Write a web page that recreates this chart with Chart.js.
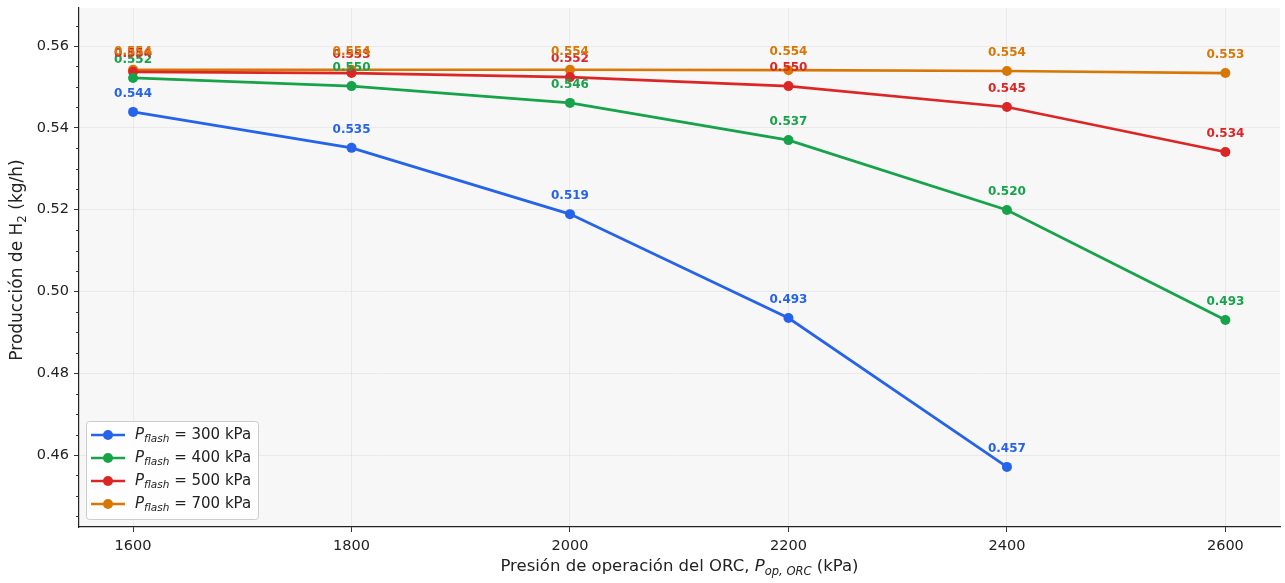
<!DOCTYPE html>
<html>
<head>
<meta charset="utf-8">
<script src="https://cdn.jsdelivr.net/npm/chart.js@4.4.1/dist/chart.umd.min.js"></script>
<style>
  html, body { margin: 0; padding: 0; background: #fff; }
  #wrap { width: 1285px; height: 583px; position: relative; }
</style>
</head>
<body>
<div id="wrap"><canvas id="chart"></canvas></div>
<script>
// data
const presiones = [1600, 1800, 2000, 2200, 2400, 2600];
const flash300 = [0.5439, 0.5351, 0.5189, 0.4935, 0.4571, null];
const flash400 = [0.5522, 0.5502, 0.5461, 0.5370, 0.5199, 0.4930];
const flash500 = [0.5537, 0.5534, 0.5524, 0.5502, 0.5451, 0.5341];
const flash700 = [0.5542, 0.5542, 0.5542, 0.5541, 0.5539, 0.5534];
const seriesNames = ['300', '400', '500', '700'];
const yTicks = [0.46, 0.48, 0.50, 0.52, 0.54, 0.56];

const colors = ['#2563eb', '#16a34a', '#dc2626', '#d97706'];
const FONT = "'DejaVu Sans', sans-serif";

function toPoints(arr) {
    return presiones.map((x, i) => ({ x: x, y: arr[i] })).filter(p => p.y !== null);
}

const allSeries = [flash300, flash400, flash500, flash700];

// draw text made of segments (italic / subscript)
function richWidth(ctx, segs, size) {
    let w = 0;
    segs.forEach(s => {
        const fs = s.sub ? size * 0.7 : size;
        ctx.font = (s.italic ? 'italic ' : '') + fs + 'px ' + FONT;
        w += ctx.measureText(s.t).width;
    });
    return w;
}
function drawRich(ctx, segs, x, y, size) {
    let cx = x;
    ctx.textBaseline = 'middle';
    ctx.textAlign = 'left';
    segs.forEach(s => {
        const fs = s.sub ? size * 0.7 : size;
        ctx.font = (s.italic ? 'italic ' : '') + fs + 'px ' + FONT;
        ctx.fillText(s.t, cx, s.sub ? y + size * 0.3 : y);
        cx += ctx.measureText(s.t).width;
    });
}

const decorPlugin = {
    id: 'decor',
    beforeDraw(chart) {
        const { ctx, chartArea: a } = chart;
        ctx.save();
        ctx.fillStyle = '#f7f7f7';
        ctx.fillRect(a.left, a.top, a.right - a.left, a.bottom - a.top);
        ctx.restore();
    },
    afterDatasetsDraw(chart) {
        const { ctx } = chart;
        // value labels
        ctx.save();
        ctx.font = 'bold 12px ' + FONT;
        ctx.textAlign = 'center';
        ctx.textBaseline = 'middle';
        chart.data.datasets.forEach((ds, di) => {
            const meta = chart.getDatasetMeta(di);
            ctx.fillStyle = colors[di];
            meta.data.forEach((pt, i) => {
                ctx.fillText(ds.data[i].y.toFixed(3), pt.x, pt.y - 18);
            });
        });
        ctx.restore();
    },
    afterDraw(chart) {
        const { ctx, chartArea: a, scales } = chart;
        const ys = scales.y;
        ctx.save();
        // minor ticks on y
        ctx.strokeStyle = '#333';
        ctx.lineWidth = 1;
        for (let v = 0.445; v < ys.max; v += 0.005) {
            const r = Math.round(v * 1000) / 1000;
            if (Math.abs(r * 50 - Math.round(r * 50)) < 1e-6) continue;
            const py = Math.round(ys.getPixelForValue(r)) + 0.5;
            ctx.beginPath();
            ctx.moveTo(a.left - 3, py);
            ctx.lineTo(a.left, py);
            ctx.stroke();
        }

        // y title
        ctx.fillStyle = '#222';
        ctx.save();
        ctx.translate(18, 260);
        ctx.rotate(-Math.PI / 2);
        const ySegs = [{ t: 'Producción de H' }, { t: '2', sub: true }, { t: ' (kg/h)' }];
        const yw = richWidth(ctx, ySegs, 17);
        drawRich(ctx, ySegs, -yw / 2, 0, 17);
        ctx.restore();

        // x title
        const xSegs = [{ t: 'Presión de operación del ORC, ' }, { t: 'P', italic: true },
            { t: 'op, ORC', italic: true, sub: true }, { t: ' (kPa)' }];
        const xw = richWidth(ctx, xSegs, 16.5);
        drawRich(ctx, xSegs, (a.left + a.right) / 2 - xw / 2, 567, 16.5);

        // legend
        const lx = 86, ly = 421, lw = 172, lh = 98;
        ctx.fillStyle = 'rgba(255,255,255,0.85)';
        ctx.strokeStyle = '#cccccc';
        ctx.lineWidth = 1;
        ctx.beginPath();
        ctx.roundRect(lx + 0.5, ly + 0.5, lw, lh, 3);
        ctx.fill();
        ctx.stroke();
        seriesNames.forEach((name, i) => {
            const ry = 435 + i * 23;
            ctx.strokeStyle = colors[i];
            ctx.lineWidth = 2.5;
            ctx.beginPath();
            ctx.moveTo(91, ry);
            ctx.lineTo(125, ry);
            ctx.stroke();
            ctx.fillStyle = colors[i];
            ctx.beginPath();
            ctx.arc(108, ry, 5, 0, Math.PI * 2);
            ctx.fill();
            ctx.fillStyle = '#222';
            drawRich(ctx, [{ t: 'P', italic: true }, { t: 'flash', italic: true, sub: true },
                { t: ' = ' + name + ' kPa' }], 135, ry, 15);
        });
        ctx.restore();
    }
};

const datasets = allSeries.map((arr, i) => ({
    label: 'P flash = ' + seriesNames[i] + ' kPa',
    data: toPoints(arr),
    borderColor: colors[i],
    backgroundColor: colors[i],
    borderWidth: 2.7,
    pointRadius: 5,
    pointHoverRadius: 5,
    pointBorderWidth: 0,
    tension: 0
}));

new Chart(document.getElementById('chart'), {
    type: 'line',
    data: { datasets: datasets },
    plugins: [decorPlugin],
    options: {
        responsive: true,
        maintainAspectRatio: false,
        animation: false,
        layout: { padding: { top: 8, right: 5, left: 0, bottom: 0 } },
        plugins: {
            legend: { display: false },
            tooltip: { enabled: false }
        },
        scales: {
            x: {
                type: 'linear',
                min: 1550.5,
                max: 2650,
                afterBuildTicks: (s) => { s.ticks = presiones.map(v => ({ value: v })); },
                afterFit: (s) => { s.height = 56; s.paddingLeft = 0; s.paddingRight = 0; },
                border: { color: '#222', width: 1.2 },
                grid: { color: 'rgba(0,0,0,0.05)', tickColor: '#333', tickLength: 5 },
                ticks: {
                    color: '#222',
                    font: { family: FONT, size: 14.5 },
                    padding: 6,
                    maxRotation: 0,
                    callback: (v) => String(v)
                }
            },
            y: {
                min: 0.4424,
                max: 0.5693,
                afterBuildTicks: (s) => { s.ticks = yTicks.map(v => ({ value: v })); },
                afterFit: (s) => { s.width = 79; s.paddingTop = 0; s.paddingBottom = 0; },
                border: { color: '#222', width: 1.2 },
                grid: { color: 'rgba(0,0,0,0.05)', tickColor: '#333', tickLength: 5 },
                ticks: {
                    color: '#222',
                    font: { family: FONT, size: 14.5 },
                    padding: 5,
                    callback: (v) => v.toFixed(2)
                }
            }
        }
    }
});
</script>
</body>
</html>
